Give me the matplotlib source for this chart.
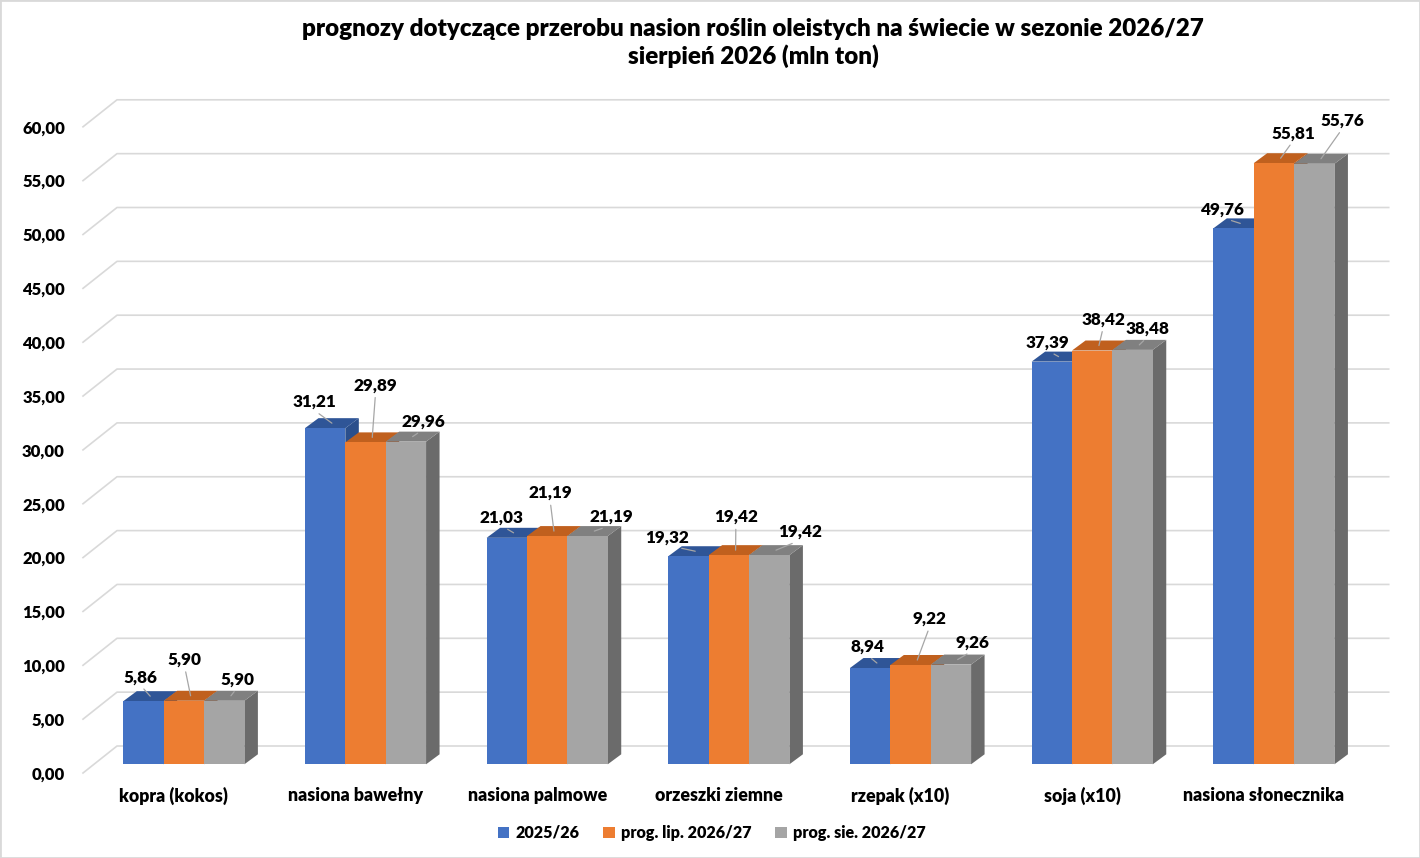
import matplotlib.pyplot as plt
from matplotlib.patches import Patch, Rectangle

plt.rcParams['font.family'] = ['Lato', 'DejaVu Sans']
plt.rcParams['font.weight'] = 'heavy'

# chart data
categories = ["kopra (kokos)", "nasiona bawełny", "nasiona palmowe", "orzeszki ziemne",
              "rzepak (x10)", "soja (x10)", "nasiona słonecznika"]
series_names = ["2025/26", "prog. lip. 2026/27", "prog. sie. 2026/27"]
val_2025 = [5.86, 31.21, 21.03, 19.32, 8.94, 37.39, 49.76]
val_lip = [5.90, 29.89, 21.19, 19.42, 9.22, 38.42, 55.81]
val_sie = [5.90, 29.96, 21.19, 19.42, 9.26, 38.48, 55.76]
yticks = list(range(0, 65, 5))

# styling
front_cols = ["#4472c4", "#ed7d31", "#a5a5a5"]
top_cols = ["#2f5597", "#c0601e", "#808080"]
side_cols = ["#2b4f8c", "#a9521a", "#6b6b6b"]
WEIGHT = "heavy"

# data label offsets in pixels (right, up) from the bar's front-top centre
lab_off = [
    [(-3, 24), (-11, 26), (-5, 20), (-21, 19), (-3, 21), (-4, 19), (-12, 19)],
    [(1, 41), (10, 57), (3, 43), (7, 38), (19, 46), (11, 31), (19, 30)],
    [(13, 21), (17, 20), (24, 19), (31, 23), (22, 22), (15, 21), (28, 43)],
]

W, H = 1420, 858
left_px, right_px = 93.0, 1364.7
base_px = 764.3        # y pixel (from top) of the zero line at bar front
ppu = 10.77            # pixels per value unit
ytop = 65

fig = plt.figure(figsize=(W / 100, H / 100), dpi=100)
fig.patch.set_facecolor("white")

ax_w = (right_px - left_px) / W
ax_h = ytop * ppu / H

# front plane axes: only carries tick labels
axf = fig.add_axes([(left_px - 10) / W, (H - base_px - 8.7) / H, ax_w, ax_h])
axf.set_xlim(-0.5, 6.5)
axf.set_ylim(0, ytop)
axf.patch.set_visible(False)
for s in axf.spines.values():
    s.set_visible(False)
axf.set_yticks(yticks)
axf.set_yticklabels([f"{t:.2f}".replace(".", ",") for t in yticks], fontweight=WEIGHT)
axf.set_xticks(range(len(categories)))
axf.set_xticklabels(categories, fontweight=WEIGHT)
axf.tick_params(axis="y", length=0, pad=13, labelsize=12)
axf.tick_params(axis="x", length=0, pad=10, labelsize=12.8)

# bar plane axes
ax = fig.add_axes([left_px / W, (H - base_px) / H, ax_w, ax_h])
ax.set_xlim(-0.5, 6.5)
ax.set_ylim(0, ytop)
ax.axis("off")

px_x = 7 / (right_px - left_px)
px_y = 1 / ppu

# back wall gridlines with diagonal floor lines
fdx, fdy = -10 * px_x, -8.7 * px_y
bdx, bdy = 24 * px_x, 18.3 * px_y
for t in yticks:
    ax.plot([-0.5 + fdx, -0.5 + bdx, 6.5 + bdx], [t + fdy, t + bdy, t + bdy],
            color="#d9d9d9", lw=1.2, zorder=1, clip_on=False)

# 3D-looking bars
w = 1 / 4.5
ddx, ddy = 13.5 * px_x, 10 * px_y
series = [val_2025, val_lip, val_sie]
for j, vals in enumerate(series):
    xs = [i + (j - 1) * w for i in range(len(categories))]
    for x, v in zip(xs, vals):
        xl, xr = x - w / 2, x + w / 2
        ax.fill([xr, xr + ddx, xr + ddx, xr], [0, ddy, v + ddy, v],
                color=side_cols[j], lw=0, zorder=2 + 2 * j, clip_on=False)
        ax.fill([xl, xr, xr + ddx, xl + ddx], [v, v, v + ddy, v + ddy],
                color=top_cols[j], lw=0, zorder=2 + 2 * j, clip_on=False)
    ax.bar(xs, vals, width=w, color=front_cols[j], lw=0, zorder=3 + 2 * j, clip_on=False)

# data labels with leader lines
for j, vals in enumerate(series):
    for i, v in enumerate(vals):
        x = i + (j - 1) * w
        ox, oy = lab_off[j][i]
        ax.annotate(f"{v:.2f}".replace(".", ","),
                    xy=(x + ddx / 2, v + ddy / 2),
                    xytext=(ox - 6.75, oy - 5), textcoords="offset pixels",
                    ha="center", va="center", fontsize=12.3, fontweight=WEIGHT,
                    color="#000000", zorder=20, annotation_clip=False,
                    arrowprops=dict(arrowstyle="-", color="#a6a6a6", lw=0.9,
                                    shrinkA=1, shrinkB=0, relpos=(0.5, 0)))

# title
fig.text(753 / W, 1 - 43 / H,
         "prognozy dotyczące przerobu nasion roślin oleistych na świecie w sezonie 2026/27\n"
         "sierpień 2026 (mln ton)",
         ha="center", va="center", multialignment="center",
         fontsize=17.4, fontweight=WEIGHT, linespacing=1.25)

# legend
handles = [Patch(facecolor=c, edgecolor="none") for c in front_cols]
fig.legend(handles, series_names, loc="center", bbox_to_anchor=(712 / W, 1 - 833 / H),
           ncol=3, frameon=False, handlelength=0.72, handleheight=0.72,
           handletextpad=0.4, columnspacing=1.45,
           prop={"size": 11.6, "weight": WEIGHT})

# chart border
fig.patches.append(Rectangle((0, 0), 1, 1, transform=fig.transFigure, fill=False,
                             edgecolor="#d9d9d9", lw=2))

fig.savefig("out.png", dpi=100)
